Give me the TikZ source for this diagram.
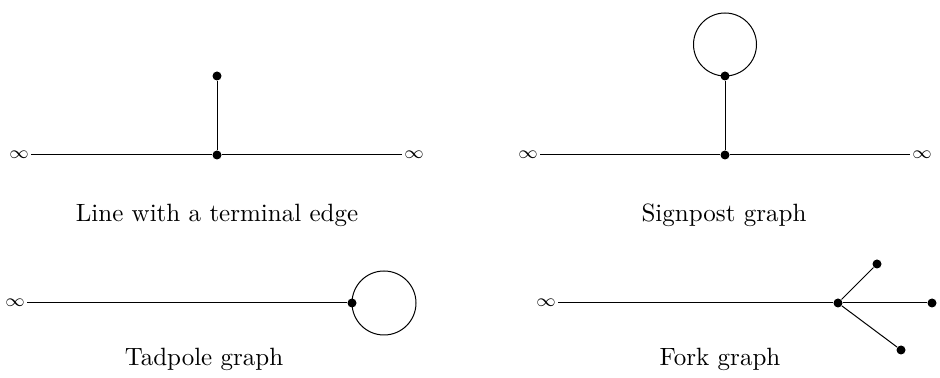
\documentclass[tikz,border=0pt]{standalone}
\begin{document}
\begin{tikzpicture}[x=0.4pt,y=-0.4pt,
  edge/.style={line width=0.4pt},
  vtx/.style={circle,fill=black,inner sep=0pt,minimum size=3.6pt},
  inf/.style={inner sep=0.6pt,font=\scriptsize},
  lbl/.style={anchor=base,inner sep=0pt}]
\useasboundingbox (0,0) rectangle (940,378);
% Line with a terminal edge
\node[inf,anchor=east] (a1) at (31,155) {$\infty$};
\node[inf,anchor=west] (a2) at (402,155) {$\infty$};
\node[vtx] (av) at (217,155) {};
\node[vtx] (at) at (217,76) {};
\draw[edge] (a1.east) -- (av) -- (a2.west);
\draw[edge] (av) -- (at);
\node[lbl] (al) at (217,222) {Line with a terminal edge};
% Signpost graph
\node[inf,anchor=east] (b1) at (540,155) {$\infty$};
\node[inf,anchor=west] (b2) at (910,155) {$\infty$};
\node[vtx] (bv) at (725,155) {};
\node[vtx] (bt) at (725,76) {};
\draw[edge] (b1.east) -- (bv) -- (b2.west);
\draw[edge] (bv) -- (bt);
\draw[edge] (bt.center) arc[start angle=90,end angle=450,radius=31.5];
\node[lbl] (bl) at (724,222) {Signpost graph};
% Tadpole graph
\node[inf,anchor=east] (c1) at (27,303) {$\infty$};
\node[vtx] (cv) at (352,303) {};
\draw[edge] (c1.east) -- (cv);
\draw[edge] (cv.center) arc[start angle=180,end angle=-180,radius=32];
\node[lbl] (cl) at (204,366) {Tadpole graph};
% Fork graph
\node[inf,anchor=east] (d1) at (558,303) {$\infty$};
\node[vtx] (dv) at (838,303) {};
\node[vtx] (dr) at (932,303) {};
\node[vtx] (du) at (877,264) {};
\node[vtx] (dd) at (901,350) {};
\draw[edge] (d1.east) -- (dv) -- (dr);
\draw[edge] (dv) -- (du);
\draw[edge] (dv) -- (dd);
\node[lbl] (dl) at (720,366) {Fork graph};
\end{tikzpicture}
\end{document}
